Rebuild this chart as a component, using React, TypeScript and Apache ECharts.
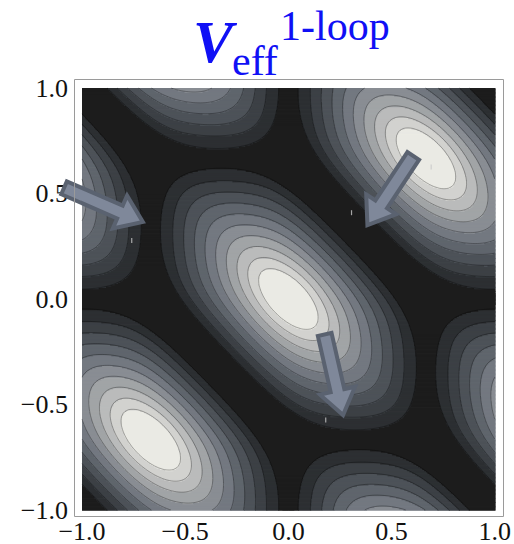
import React, { useEffect, useRef } from "react";
import * as echarts from "echarts";

// Maxima of the one-loop potential (field-space lattice points) and their heights
const peakX = [0, 2 / 3, -2 / 3, -2 / 3, 2 / 3, -4 / 3, 4 / 3, 4 / 3, -4 / 3];
const peakY = [0, 2 / 3, -2 / 3, 4 / 3, -4 / 3, 2 / 3, -2 / 3, 4 / 3, -4 / 3];
const peakHeight = [1, 1, 1, 1, 1, 1, 1, 1, 1];
// outermost contour of a peak: semi-axes along (1,-1) and (1,1),
// and the flat sides it shows towards the x and y directions
const reachLong = 0.78;
const reachShort = 0.385;
const reachSide = 0.61;

// Contour levels (band lower bounds) and the radius of each contour,
// as a fraction of the outermost one
const contourLevels = [-1, 1 / 11, 2 / 11, 3 / 11, 4 / 11, 5 / 11, 6 / 11, 7 / 11, 8 / 11, 9 / 11, 10 / 11];
const ringRadius = [1.0, 0.915, 0.83, 0.745, 0.66, 0.575, 0.49, 0.405, 0.32, 0.235];
const bandColors = [
  "#1c1c1c", "#2c2f32", "#3c4045", "#4d5258", "#5f656c", "#737880",
  "#898d93", "#a1a4a6", "#babbbb", "#d2d2cf", "#eaeae4",
];

// Flow arrows
const arrowFromX = [-1.087, 0.605, 0.176];
const arrowFromY = [0.527, 0.678, -0.168];
const arrowToX = [-0.705, 0.383, 0.265];
const arrowToY = [0.365, 0.35, -0.55];

// Small marks in the plane
const markX = [0.692, 0.306, -0.759, 0.181];
const markY = [0.626, 0.409, 0.277, -0.574];

const tickValues = [-1, -0.5, 0, 0.5, 1];
const tickLabels = ["\u22121.0", "\u22120.5", "0.0", "0.5", "1.0"];

// sampling of the field
const COLS = 620;
const ROWS = 320;
const NODES = 240;

// height of one peak at radius rho (rho = 1 on the outermost contour)
function profile(rho: number): number {
  const n = ringRadius.length;
  if (rho >= ringRadius[0]) return contourLevels[1] * Math.exp(-10 * (rho - ringRadius[0]));
  if (rho <= ringRadius[n - 1]) {
    const top = contourLevels[n];
    const t = rho / ringRadius[n - 1];
    return 1 - (1 - top) * t * t;
  }
  for (let k = 0; k < n - 1; k++) {
    const r0 = ringRadius[k];
    const r1 = ringRadius[k + 1];
    if (rho <= r0 && rho >= r1) {
      const l0 = contourLevels[k + 1];
      const l1 = contourLevels[k + 2];
      return l0 + ((r0 - rho) / (r0 - r1)) * (l1 - l0);
    }
  }
  return 0;
}

// elliptical near the top, flattening towards the foot of the peak
function peakRadius(dx: number, dy: number): number {
  const u = (dx - dy) / Math.SQRT2;
  const w = (dx + dy) / Math.SQRT2;
  const ell = Math.sqrt((u / reachLong) ** 2 + (w / reachShort) ** 2);
  const hex = Math.pow(
    Math.abs(w / reachShort) ** 7 + Math.abs(dx / reachSide) ** 7 + Math.abs(dy / reachSide) ** 7,
    1 / 7
  );
  const t = Math.min(1, Math.max(0, (ell - 0.35) / 0.65));
  return ell + t * (hex - ell);
}

function potential(x: number, y: number): number {
  let v = 0;
  for (let k = 0; k < peakX.length; k++) {
    v += peakHeight[k] * profile(peakRadius(x - peakX[k], y - peakY[k]));
  }
  return v;
}

function bandOf(v: number): number {
  let b = 0;
  for (let k = 0; k < contourLevels.length; k++) if (v >= contourLevels[k]) b = k;
  return b;
}

function tickLabel(v: number): string {
  for (let i = 0; i < tickValues.length; i++) {
    if (Math.abs(tickValues[i] - v) < 1e-6) return tickLabels[i];
  }
  return "";
}

// Each row of samples is merged into runs that stay inside one band:
// [xStart, xEnd, yBottom, yTop, value]
function buildRuns(): number[][] {
  const runs: number[][] = [];
  const dx = 2 / COLS;
  const dy = 2 / ROWS;
  for (let j = 0; j < ROWS; j++) {
    const y0 = -1 + j * dy;
    const yc = y0 + dy / 2;
    let start = 0;
    let startVal = potential(-1 + dx / 2, yc);
    let band = bandOf(startVal);
    for (let i = 1; i <= COLS; i++) {
      const v = i < COLS ? potential(-1 + (i + 0.5) * dx, yc) : NaN;
      const b = i < COLS ? bandOf(v) : -1;
      if (b !== band) {
        runs.push([-1 + start * dx, -1 + i * dx, y0, y0 + dy, startVal]);
        start = i;
        startVal = v;
        band = b;
      }
    }
  }
  return runs;
}

// Contour lines by marching squares, joined into polylines
function buildContours(): number[][][] {
  const n = NODES;
  const h = 2 / n;
  const val = new Float64Array((n + 1) * (n + 1));
  for (let j = 0; j <= n; j++)
    for (let i = 0; i <= n; i++) val[j * (n + 1) + i] = potential(-1 + i * h, -1 + j * h);
  const at = (i: number, j: number) => val[j * (n + 1) + i];

  const lines: number[][][] = [];
  for (let k = 1; k < contourLevels.length; k++) {
    const L = contourLevels[k];
    const pts = new Map<string, number[]>();
    const adj = new Map<string, string[]>();
    const edgePoint = (key: string, i0: number, j0: number, i1: number, j1: number) => {
      if (!pts.has(key)) {
        const a = at(i0, j0);
        const b = at(i1, j1);
        const t = (L - a) / (b - a);
        pts.set(key, [-1 + (i0 + t * (i1 - i0)) * h, -1 + (j0 + t * (j1 - j0)) * h]);
      }
      return key;
    };
    const link = (p: string, q: string) => {
      if (!adj.has(p)) adj.set(p, []);
      if (!adj.has(q)) adj.set(q, []);
      adj.get(p)!.push(q);
      adj.get(q)!.push(p);
    };
    for (let j = 0; j < n; j++) {
      for (let i = 0; i < n; i++) {
        const v0 = at(i, j), v1 = at(i + 1, j), v2 = at(i + 1, j + 1), v3 = at(i, j + 1);
        const c = (v0 >= L ? 1 : 0) | (v1 >= L ? 2 : 0) | (v2 >= L ? 4 : 0) | (v3 >= L ? 8 : 0);
        if (c === 0 || c === 15) continue;
        const eB = () => edgePoint(`h${i},${j}`, i, j, i + 1, j);
        const eR = () => edgePoint(`v${i + 1},${j}`, i + 1, j, i + 1, j + 1);
        const eT = () => edgePoint(`h${i},${j + 1}`, i, j + 1, i + 1, j + 1);
        const eL = () => edgePoint(`v${i},${j}`, i, j, i, j + 1);
        const centreHigh = (v0 + v1 + v2 + v3) / 4 >= L;
        switch (c) {
          case 1: case 14: link(eL(), eB()); break;
          case 2: case 13: link(eB(), eR()); break;
          case 3: case 12: link(eL(), eR()); break;
          case 4: case 11: link(eR(), eT()); break;
          case 6: case 9: link(eB(), eT()); break;
          case 7: case 8: link(eL(), eT()); break;
          case 5:
            if (centreHigh) { link(eL(), eT()); link(eB(), eR()); }
            else { link(eL(), eB()); link(eR(), eT()); }
            break;
          case 10:
            if (centreHigh) { link(eL(), eB()); link(eR(), eT()); }
            else { link(eL(), eT()); link(eB(), eR()); }
            break;
        }
      }
    }
    const used = new Set<string>();
    const edgeKey = (p: string, q: string) => (p < q ? p + "|" + q : q + "|" + p);
    const walk = (startKey: string) => {
      const line: number[][] = [pts.get(startKey)!];
      let cur = startKey;
      for (;;) {
        const next = (adj.get(cur) || []).find((q) => !used.has(edgeKey(cur, q)));
        if (!next) break;
        used.add(edgeKey(cur, next));
        line.push(pts.get(next)!);
        cur = next;
      }
      return line;
    };
    // open lines first (ending at the border), then closed loops
    for (const [key, nb] of adj) {
      if (nb.length === 1 && !used.has(edgeKey(key, nb[0]))) lines.push(walk(key));
    }
    for (const [key, nb] of adj) {
      if (nb.some((q) => !used.has(edgeKey(key, q)))) lines.push(walk(key));
    }
  }
  return lines.filter((l) => l.length > 1);
}

export default function App() {
  const ref = useRef<HTMLDivElement>(null);

  useEffect(() => {
    if (!ref.current) return;
    const chart = echarts.init(ref.current, undefined, { renderer: "svg" });

    const runs = buildRuns();
    const contours = buildContours();
    const pieces = bandColors.map((color, k) => {
      const p: any = { gte: contourLevels[k], color };
      if (k + 1 < contourLevels.length) p.lt = contourLevels[k + 1];
      return p;
    });

    const arrows = arrowFromX.map((_, i) => [arrowFromX[i], arrowFromY[i], arrowToX[i], arrowToY[i]]);
    const marks = markX.map((x, i) => [x, markY[i]]);

    const frameColor = "#9a9a9a";
    const tickStyle = {
      axisLine: { show: false },
      splitLine: { show: false },
      axisTick: { show: true, inside: true, length: 6, lineStyle: { color: frameColor, width: 1 } },
      minorTick: { show: true, splitNumber: 5, length: 3, lineStyle: { color: frameColor, width: 1 } },
    };
    const labelStyle = {
      show: true,
      fontFamily: "Liberation Serif",
      fontSize: 26,
      color: "#111",
      formatter: (v: number) => tickLabel(v),
    };
    const axisBase = { type: "value", min: -1, max: 1, interval: 0.5, ...tickStyle };

    chart.setOption({
      animation: false,
      grid: { left: 82, top: 88, width: 415, height: 423 },
      xAxis: [
        { ...axisBase, position: "bottom", offset: 6, axisLabel: { ...labelStyle, margin: 2 } },
        { ...axisBase, position: "top", offset: 8, axisLabel: { show: false } },
      ],
      yAxis: [
        { ...axisBase, position: "left", offset: 8, axisLabel: { ...labelStyle, margin: 6 } },
        { ...axisBase, position: "right", offset: 6, axisLabel: { show: false } },
      ],
      visualMap: {
        type: "piecewise",
        show: false,
        seriesIndex: 0,
        dimension: 4,
        pieces,
      },
      series: [
        {
          type: "custom",
          data: runs,
          encode: { x: [0, 1], y: [2, 3] },
          silent: true,
          renderItem: (_params: any, api: any) => {
            const a = api.coord([api.value(0), api.value(3)]);
            const b = api.coord([api.value(1), api.value(2)]);
            return {
              type: "rect",
              shape: { x: a[0], y: a[1], width: b[0] - a[0] + 0.8, height: b[1] - a[1] + 0.8 },
              style: { fill: api.visual("color") },
            };
          },
        },
        {
          type: "custom",
          silent: true,
          z: 3,
          data: contours.map((line) => line[0]),
          renderItem: (params: any, api: any) => {
            const line = contours[params.dataIndex];
            return {
              type: "polyline",
              shape: { points: line.map((p) => api.coord(p)) },
              style: { fill: "none", stroke: "rgba(0,0,0,0.3)", lineWidth: 1 },
            };
          },
        },
        {
          type: "scatter",
          data: marks,
          symbol: "rect",
          symbolSize: [1.2, 5],
          itemStyle: { color: "#c8c8c8" },
          z: 5,
        },
        {
          type: "custom",
          clip: false,
          z: 10,
          data: arrows,
          encode: { x: [0, 2], y: [1, 3] },
          renderItem: (_params: any, api: any) => {
            const p0 = api.coord([api.value(0), api.value(1)]);
            const p1 = api.coord([api.value(2), api.value(3)]);
            const dx = p1[0] - p0[0];
            const dy = p1[1] - p0[1];
            const len = Math.hypot(dx, dy);
            const ux = dx / len;
            const uy = dy / len;
            const nx = -uy;
            const ny = ux;
            const shaft = 7;
            const head = 18;
            const headLen = 25;
            const bx = p1[0] - ux * headLen;
            const by = p1[1] - uy * headLen;
            const points = [
              [p0[0] + nx * shaft, p0[1] + ny * shaft],
              [bx + nx * shaft, by + ny * shaft],
              [bx + nx * head, by + ny * head],
              [p1[0], p1[1]],
              [bx - nx * head, by - ny * head],
              [bx - nx * shaft, by - ny * shaft],
              [p0[0] - nx * shaft, p0[1] - ny * shaft],
            ];
            return {
              type: "polygon",
              shape: { points },
              style: { fill: "#7f889a", stroke: "#5a6270", lineWidth: 4, lineJoin: "miter" },
            };
          },
        },
      ],
      graphic: [
        {
          type: "rect",
          z: 20,
          silent: true,
          shape: { x: 74.5, y: 79.5, width: 429, height: 437 },
          style: { fill: "none", stroke: frameColor, lineWidth: 1 },
        },
        {
          type: "text",
          x: 193,
          y: 42,
          style: {
            text: "V",
            font: "italic bold 60px 'Liberation Serif'",
            fill: "#1010f5",
            verticalAlign: "middle",
          },
        },
        {
          type: "text",
          x: 232,
          y: 61,
          style: { text: "eff", font: "42px 'Liberation Serif'", fill: "#1010f5", verticalAlign: "middle" },
        },
        {
          type: "text",
          x: 280,
          y: 26,
          style: { text: "1-loop", font: "42px 'Liberation Serif'", fill: "#1010f5", verticalAlign: "middle" },
        },
      ],
    });

    return () => chart.dispose();
  }, []);

  return (
    <div
      ref={ref}
      style={{ position: "fixed", left: 0, top: 0, width: 514, height: 544, background: "#fff" }}
    />
  );
}
